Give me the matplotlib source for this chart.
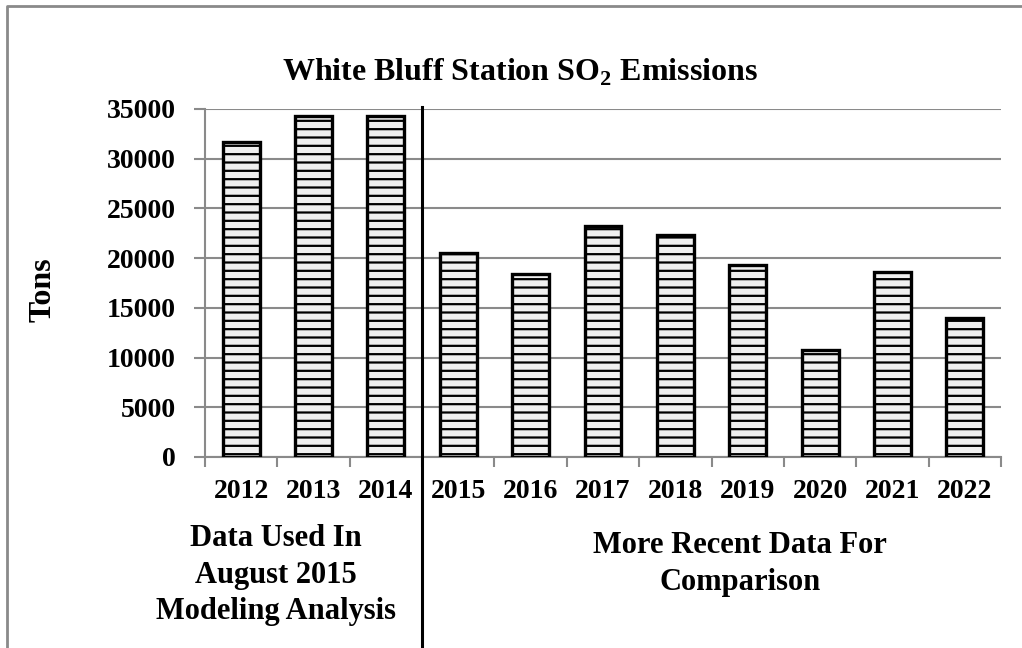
import numpy as np
import matplotlib
matplotlib.use("Agg")
import matplotlib.pyplot as plt
from matplotlib.lines import Line2D

# SO2 emissions, tons per year
years = ["2012", "2013", "2014", "2015", "2016", "2017",
         "2018", "2019", "2020", "2021", "2022"]
tons = [31700, 34300, 34300, 20500, 18400, 23250,
        22350, 19350, 10750, 18600, 14000]
yticks = [0, 5000, 10000, 15000, 20000, 25000, 30000, 35000]

plt.rcParams['font.family'] = ['Liberation Serif', 'DejaVu Serif']
plt.rcParams['font.weight'] = 'bold'
plt.rcParams['mathtext.fontset'] = 'custom'
plt.rcParams['mathtext.rm'] = 'Liberation Serif:bold'
plt.rcParams['mathtext.bf'] = 'Liberation Serif:bold'
plt.rcParams['hatch.linewidth'] = 1.6
plt.rcParams['hatch.color'] = 'black'

grey = '#8a8a8a'
fig = plt.figure(figsize=(10.22, 6.48), dpi=100)
ax = fig.add_axes([205/1022, 1-457/648, (1001-205)/1022, (457-109)/648])

x = np.arange(len(years))
ax.bar(x, tons, width=0.51, color='#f0f0f0', edgecolor='black',
       linewidth=2.4, hatch='--', zorder=3)

ax.set_xlim(-0.5, len(years)-0.5)
ax.set_ylim(0, 35000)
ax.set_yticks(yticks)
ax.set_yticklabels([str(v) for v in yticks], fontsize=20, fontweight='bold')
ax.set_xticks(x)
ax.set_xticklabels(years, fontsize=20, fontweight='bold')
ax.set_xticks(np.arange(-0.5, len(years)), minor=True)
ax.tick_params(axis='x', which='major', length=0, pad=16)
ax.tick_params(axis='x', which='minor', length=7, width=1.5, color=grey)
ax.tick_params(axis='y', length=8, width=1.5, color=grey, pad=13)

ax.yaxis.grid(True, color=grey, linewidth=1.5, zorder=0)
for s in ['top', 'right']:
    ax.spines[s].set_visible(False)
for s in ['left', 'bottom']:
    ax.spines[s].set_color(grey)
    ax.spines[s].set_linewidth(1.5)

# divider between the modeling years and the newer years
ax.axvline(2.5, ymin=-0.55, ymax=1.006, color='black', linewidth=2.2,
           clip_on=False, zorder=5)

fig.text(520/1022, 1-72/648, r'White Bluff Station SO$_\mathbf{2}$ Emissions',
         ha='center', va='center', fontsize=23, fontweight='bold')
fig.text(43/1022, 1-290/648, 'Tons', rotation=90, ha='center', va='center',
         fontsize=23, fontweight='bold')
fig.text(276/1022, 1-575/648, 'Data Used In\nAugust 2015\nModeling Analysis',
         ha='center', va='center', fontsize=22, fontweight='bold',
         linespacing=1.35)
fig.text(740/1022, 1-564/648, 'More Recent Data For\nComparison',
         ha='center', va='center', fontsize=22, fontweight='bold',
         linespacing=1.35)

# page frame (left and top edges visible)
fig.add_artist(Line2D([7/1022, 7/1022, 1.0], [0.0, 1-6/648, 1-6/648],
                      transform=fig.transFigure, color=grey, linewidth=2))

fig.savefig('out.png', dpi=100)
